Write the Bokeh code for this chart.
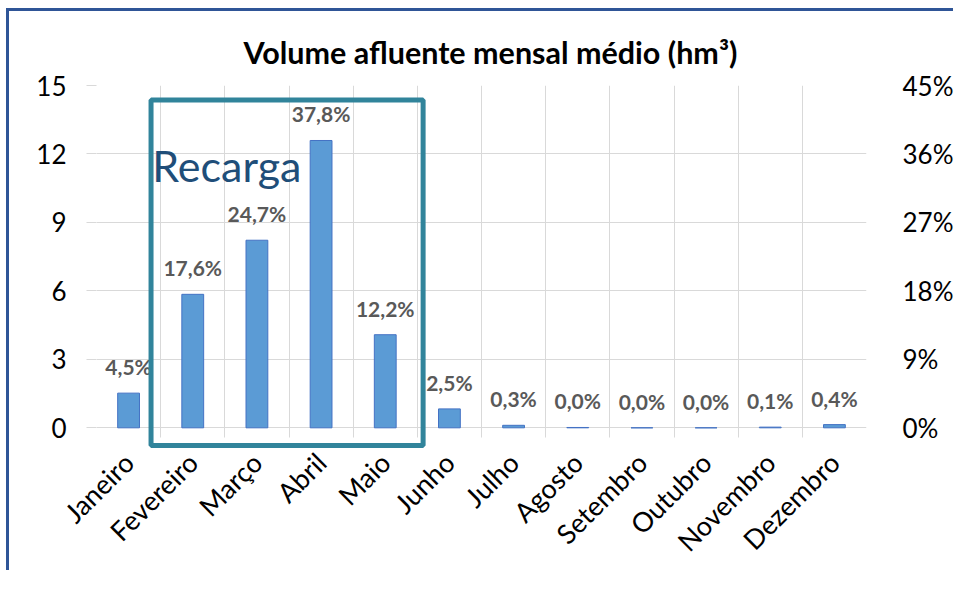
import math
from bokeh.plotting import figure
from bokeh.models import (ColumnDataSource, FactorRange, Range1d, LinearAxis, FixedTicker,
                          NumeralTickFormatter, LabelSet, Label, BoxAnnotation, Title)
from bokeh.core.properties import value
from bokeh.embed import file_html
from bokeh.resources import INLINE

# ---- data ----
months = ["Janeiro", "Fevereiro", "Março", "Abril", "Maio", "Junho",
          "Julho", "Agosto", "Setembro", "Outubro", "Novembro", "Dezembro"]
volume_hm3 = [1.52, 5.85, 8.22, 12.59, 4.08, 0.83, 0.11, 0.015, 0.0, 0.0, 0.03, 0.14]
pct_labels = ["4,5%", "17,6%", "24,7%", "37,8%", "12,2%", "2,5%",
              "0,3%", "0,0%", "0,0%", "0,0%", "0,1%", "0,4%"]
left_ticks = [0, 3, 6, 9, 12, 15]
right_ticks = [0, 0.09, 0.18, 0.27, 0.36, 0.45]
title_text = "Volume afluente mensal médio (hm³)"
recarga_text = "Recarga"
recarga_months = ["Fevereiro", "Maio"]

FONT = "Lato"
GRID = "#D9D9D9"

src = ColumnDataSource(dict(month=months, volume=volume_hm3, pct=pct_labels))

y_start = -0.95
p = figure(width=947, height=562, x_range=FactorRange(*months),
           y_range=Range1d(y_start, 15), output_backend="svg", toolbar_location=None,
           min_border_left=87, min_border_right=88, min_border_top=74, min_border_bottom=124)
p.extra_y_ranges = {"pct": Range1d(y_start * 0.03, 0.45)}

p.outline_line_color = None
p.background_fill_color = "white"
p.border_fill_color = "white"

# title
p.title = Title(text=title_text, align="left", text_font=FONT, text_font_size="30.5px",
                text_font_style="bold", text_color="#000000", standoff=32, offset=147)

# bars
p.vbar(x="month", top="volume", width=0.34, source=src,
       fill_color="#5B9BD5", line_color="#4472C4", line_width=1)

# data labels
p.add_layout(LabelSet(x="month", y="volume", text="pct", source=src, y_offset=18,
                      text_align="center", text_baseline="alphabetic",
                      text_font=value(FONT), text_font_size=value("21px"),
                      text_font_style="bold", text_color="#595959"))

# grids
p.xgrid.ticker = FixedTicker(ticks=list(range(len(months) + 1)))
p.xgrid.grid_line_color = GRID
if "cross_bounds" in p.xgrid.properties():
    p.xgrid.cross_bounds = (-0.44, 15)
p.ygrid.ticker = FixedTicker(ticks=left_ticks)
p.ygrid.grid_line_color = GRID

# left axis
ya = p.yaxis[0]
ya.ticker = FixedTicker(ticks=left_ticks)
ya.axis_line_color = None
ya.major_tick_out = 10
ya.major_tick_in = 0
ya.major_tick_line_color = GRID
ya.minor_tick_line_color = None
ya.major_label_standoff = 20
ya.major_label_text_font = FONT
ya.major_label_text_font_size = "26px"
ya.major_label_text_color = "#000000"

# right axis
ra = LinearAxis(y_range_name="pct", ticker=FixedTicker(ticks=right_ticks),
                formatter=NumeralTickFormatter(format="0%"))
ra.axis_line_color = None
ra.major_tick_line_color = None
ra.minor_tick_line_color = None
ra.major_label_standoff = 30
ra.major_label_text_font = FONT
ra.major_label_text_font_size = "26px"
ra.major_label_text_color = "#000000"
p.add_layout(ra, "right")

# x axis
xa = p.xaxis[0]
xa.axis_line_color = None
xa.major_tick_line_color = None
xa.minor_tick_line_color = None
xa.major_label_orientation = math.pi / 4
xa.major_label_standoff = 2
xa.major_label_text_font = FONT
xa.major_label_text_font_size = "27px"
xa.major_label_text_color = "#000000"

# "Recarga" highlight box and label
i0 = months.index(recarga_months[0])
i1 = months.index(recarga_months[1]) + 1
p.add_layout(BoxAnnotation(left=i0 - 0.15, right=i1 + 0.09, top=14.36, bottom=-0.77,
                           fill_color=None, fill_alpha=0, line_color="#31849B",
                           line_alpha=1, line_width=5))
p.add_layout(Label(x=i0 - 0.13, y=11.5, text=recarga_text, text_baseline="alphabetic",
                   text_font=FONT, text_font_size="43px", text_color="#1F4E79"))

# chart area border like the source chart (dark blue left/top)
p.styles = {"margin-left": "9px", "margin-top": "11px",
            "box-shadow": "-3px -3px 0 0 #2F5597"}

open("out.html", "w").write(file_html(p, INLINE))
